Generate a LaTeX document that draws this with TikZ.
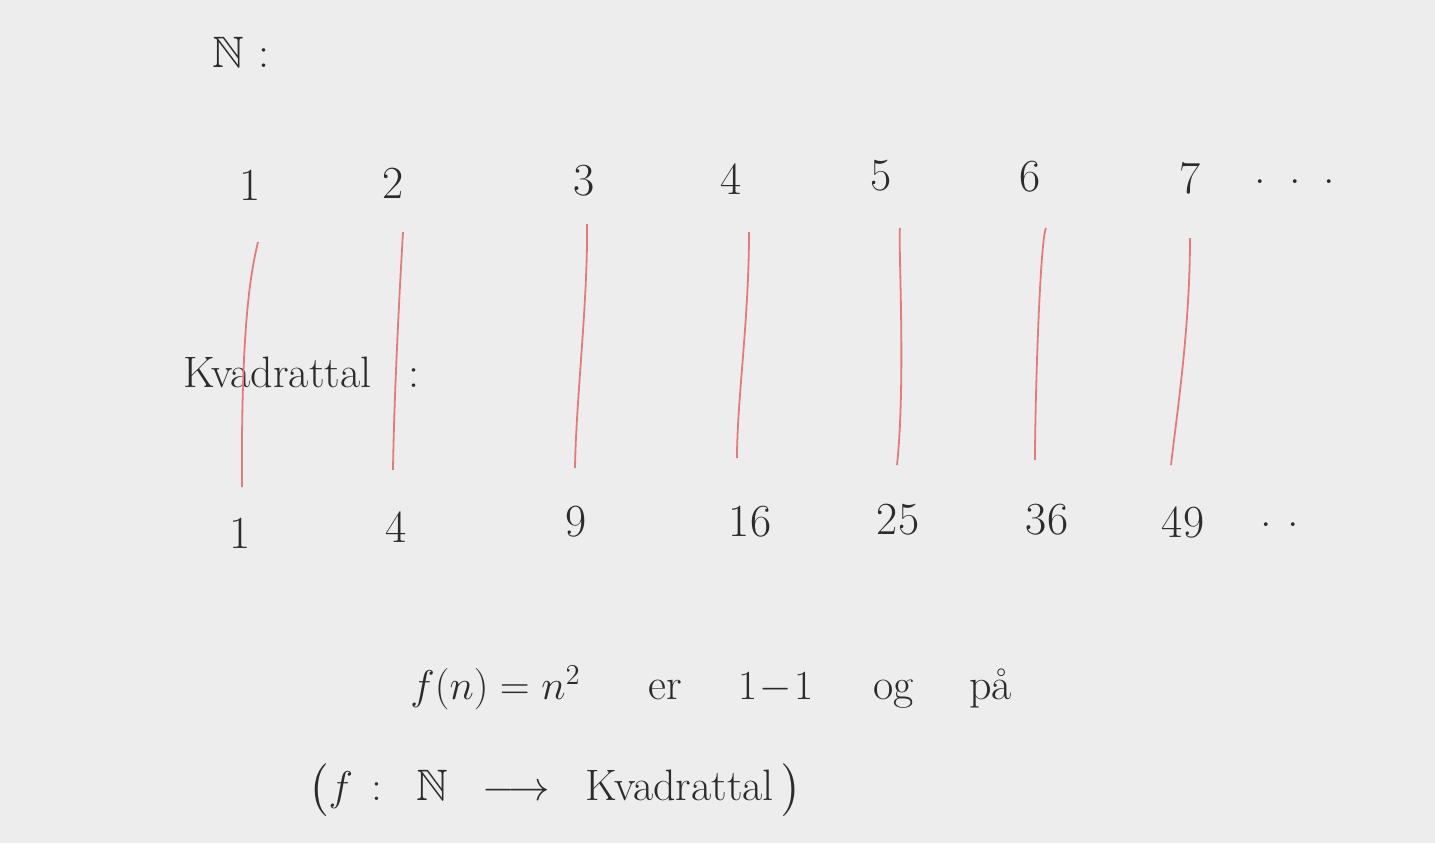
\documentclass[tikz,border=0pt]{standalone}
\usepackage{amsmath,amssymb}
\definecolor{bg}{HTML}{EDEDED}
\definecolor{ink}{HTML}{2B2B2B}
\definecolor{redline}{HTML}{E77A78}
\begin{document}
\begin{tikzpicture}[x=0.5pt,y=-0.5pt,
  num/.style={text=ink,font=\fontsize{23}{28}\selectfont,inner sep=0pt,anchor=center},
  word/.style={text=ink,font=\fontsize{22}{26}\selectfont,inner sep=0pt,anchor=west},
  link/.style={draw=redline,line width=0.9pt}]
\fill[bg] (0,0) rectangle (1435,843);
\useasboundingbox (0,0) rectangle (1435,843);
% heading
\node[word] (N) at (212,52) {$\mathbb{N}$\,\,:};
% top row
\node[num] (t1) at (250,185) {1};
\node[num] (t2) at (393,183) {2};
\node[num] (t3) at (584,181) {3};
\node[num] (t4) at (731,179) {4};
\node[num] (t5) at (881,176) {5};
\node[num] (t6) at (1030,177) {6};
\node[num] (t7) at (1190,178) {7};
\node[num] (tdots) at (1295,182) {.\,\,\,.\,\,\,.};
% bottom row
\node[num] (b1) at (240,533) {1};
\node[num] (b2) at (396,527) {4};
\node[num] (b3) at (576,522) {9};
\node[num] (b4) at (750,522) {16};
\node[num] (b5) at (898,520) {25};
\node[num] (b6) at (1047,520) {36};
\node[num] (b7) at (1183,522) {49};
\node[num] (bdots) at (1280,525) {.\,\,.};
% label
\node[word] (K) at (183,372) {Kvadrattal\,\,\,\,\,:};
% line end coordinates
\coordinate (u1) at (258,242); \coordinate (v1) at (242,487);
\coordinate (u2) at (403,232); \coordinate (v2) at (393,470);
\coordinate (u3) at (587,224); \coordinate (v3) at (575,468);
\coordinate (u4) at (749,232); \coordinate (v4) at (737,458);
\coordinate (u5) at (900,228); \coordinate (v5) at (897,465);
\coordinate (u6) at (1046,228); \coordinate (v6) at (1035,460);
\coordinate (u7) at (1190,238); \coordinate (v7) at (1171,465);
\draw[link] (u1) .. controls (250,275) and (241,330) .. (v1);
\draw[link] (u2) .. controls (399,300) and (394,400) .. (v2);
\draw[link] (u3) .. controls (588,300) and (576,400) .. (v3);
\draw[link] (u4) .. controls (749,320) and (737,400) .. (v4);
\draw[link] (u5) .. controls (898,240) and (906,380) .. (v5);
\draw[link] (u6) .. controls (1040,240) and (1035,400) .. (v6);
\draw[link] (u7) .. controls (1190,330) and (1176,420) .. (v7);
% bottom formulas
\node[word] (F) at (410,688) {$f(n) = n^2$\hspace{34pt}er\hspace{28pt}$1\!-\!1$\hspace{30pt}og\hspace{28pt}på};
\node[word] (G) at (308,790) {$\bigl(f\,:\;\;\mathbb{N} \;\;\longrightarrow\;\;$ Kvadrattal\,$\bigr)$};
\end{tikzpicture}
\end{document}
